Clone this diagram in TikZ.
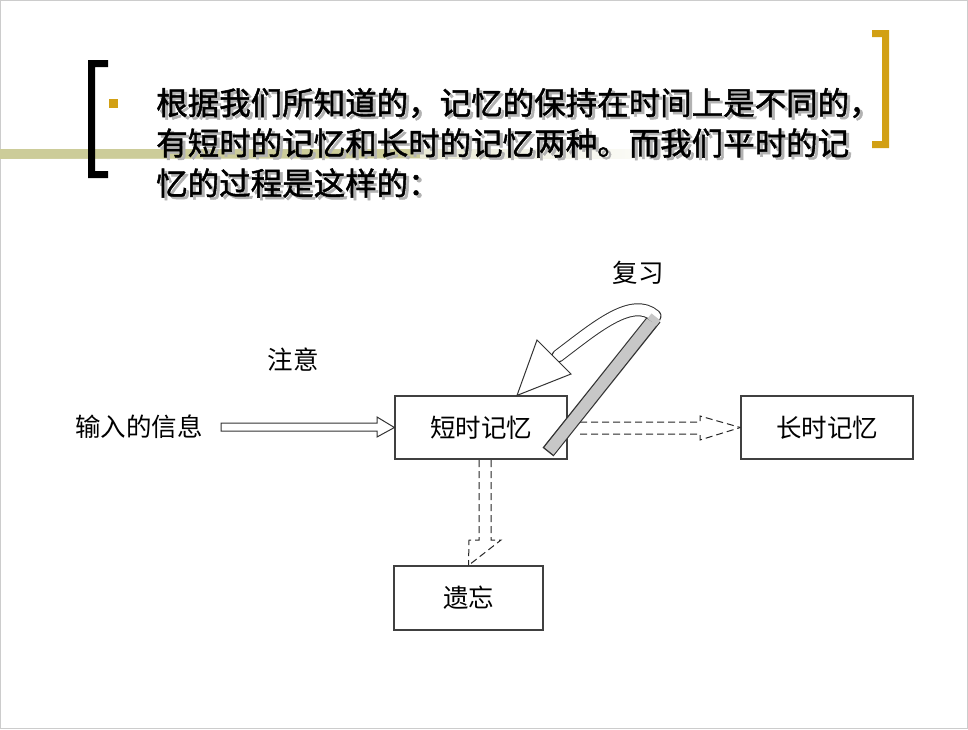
\documentclass[tikz,border=0pt]{standalone}
\usepackage{fontspec}
\newfontfamily\cjk{Noto Sans CJK SC}
\newfontfamily\cjkb[FakeBold=1.5]{Noto Sans CJK SC}
\definecolor{olive}{RGB}{204,204,153}
\definecolor{gold}{RGB}{210,160,20}
\begin{document}
\begin{tikzpicture}[x=1pt,y=-1pt,
  box/.style={draw=black!75,line width=1.2pt,fill=white},
  lbl/.style={font=\cjk\fontsize{25.5}{28}\selectfont,inner sep=0},
  top/.style={font=\cjkb\fontsize{31.5}{34}\selectfont,anchor=west,inner sep=0},
  dsh/.style={draw=black!85,line width=1pt,dash pattern=on 7pt off 4pt}]
\useasboundingbox (0,0) rectangle (968,729);
\fill[white] (0,0) rectangle (968,729);
\draw[black!20,line width=1pt] (0.5,0.5) rectangle (967.5,728.5);
% olive bar
\shade[left color=olive, right color=white] (0,149) rectangle (700,158);
\fill[olive] (0,149) rectangle (420,158);
% brackets
\fill[black] (88,60) rectangle (95,178) (88,60) rectangle (108,67) (88,171) rectangle (108,178);
\fill[gold] (882,30) rectangle (889,148) (872,30) rectangle (889,37) (872,141) rectangle (889,148);
\fill[gold] (109,99) rectangle (118,108);
% text with shadow
\foreach \t/\yy in {根据我们所知道的，记忆的保持在时间上是不同的，/103,有短时的记忆和长时的记忆两种。而我们平时的记/143,忆的过程是这样的：/183}{
  \node[top,text=black!30] at (159,\yy+2.5) {\t};
  \node[top] at (156,\yy) {\t};
}
% boxes
\node[box,minimum width=172,minimum height=63,lbl] (stm) at (481,427.5) {短时记忆};
\node[box,minimum width=172,minimum height=63,lbl] (ltm) at (827,427.5) {长时记忆};
\node[box,minimum width=149,minimum height=64,lbl] (fg) at (468.5,598) {遗忘};
\node[lbl] (inp) at (139,427) {输入的信息};
\node[lbl] (att) at (293,360) {注意};
\node[lbl] (rev) at (638,273) {复习};
% input hollow arrow
\draw[black!80,line width=1pt,fill=white] (221,423) -- (377,423) -- (377,417) -- (stm.west) -- (377,437) -- (377,431) -- (221,431) -- cycle;
% dashed right arrow
\draw[dsh] (580,422) -- (700,422) -- (700,416) -- (ltm.west);
\draw[dsh] (580,434) -- (700,434) -- (700,440) -- (ltm.west);
% dashed down arrow
\draw[dsh] (479,460) -- (479,540) -- (469,540) -- (fg.north);
\draw[dsh] (491,460) -- (491,540) -- (501,540) -- (fg.north);
% review loop
\draw[line width=14pt,black!80] (548,452) -- (655,318);
\draw[line width=11.5pt,black!22] (549,451) -- (654,319);
\draw[line width=13pt,black!80,line cap=round] (558,356) .. controls (595,328) and (632,296) .. (655,316);
\draw[line width=11pt,white,line cap=round] (558,356) .. controls (595,328) and (632,296) .. (655,316);
\draw[line width=11.5pt,black!22] (652,322) -- (656,317);
\draw[black!80,line width=1pt,fill=white] (537,340) -- (571,374) -- ([xshift=36]stm.north) -- cycle;
\end{tikzpicture}
\end{document}
